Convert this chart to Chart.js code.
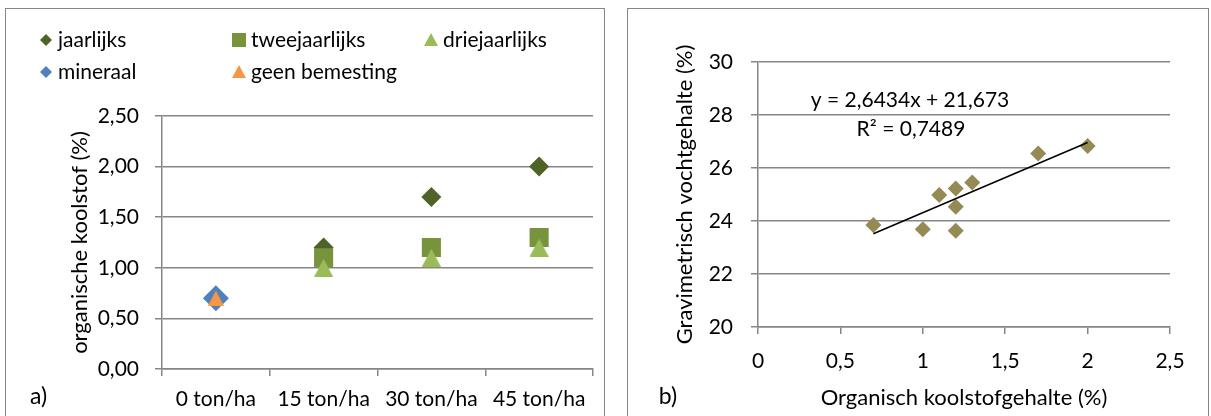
<!DOCTYPE html>
<html>
<head>
<meta charset="utf-8">
<script src="https://cdn.jsdelivr.net/npm/chart.js"></script>
<style>
  body { margin: 0; background: #fff; width: 1211px; height: 416px; overflow: hidden; position: relative; }
  .panel { position: absolute; border: 1.5px solid #868686; border-bottom: none; }
  #p1 { left: 5px; top: 8px; width: 598px; height: 420px; }
  #p2 { left: 627px; top: 8px; width: 580px; height: 420px; }
  canvas { position: absolute; top: 0; }
  #c1 { left: 0; }
  #c2 { left: 610px; }
</style>
</head>
<body>
<div class="panel" id="p1"></div>
<div class="panel" id="p2"></div>
<canvas id="c1" width="610" height="416"></canvas>
<canvas id="c2" width="601" height="416"></canvas>
<script>
// chart a) - organische koolstof per dosis
const doses = ["0 ton/ha", "15 ton/ha", "30 ton/ha", "45 ton/ha"];
const jaarlijks = [null, 1.2, 1.7, 2.0];
const tweejaarlijks = [null, 1.1, 1.2, 1.3];
const driejaarlijks = [null, 1.0, 1.1, 1.2];
const mineraal = [0.7, null, null, null];
const geenBemesting = [0.7, null, null, null];

// chart b) - koolstof vs vochtgehalte
const koolstof = [0.7, 1.0, 1.1, 1.2, 1.2, 1.2, 1.3, 1.7, 2.0];
const vocht = [23.85, 23.69, 24.98, 25.23, 24.54, 23.63, 25.45, 26.55, 26.83];
const trendX = [0.7, 2.0];
const trendY = [23.52, 26.96];
const trendLabel = ["y = 2,6434x + 21,673", "R\u00b2 = 0,7489"];

const FONT = "Lato, 'Open Sans', sans-serif";
const GRID = "#868686";
Chart.defaults.font.family = FONT;
Chart.defaults.color = "#000";
Chart.defaults.animation = false;

// excel triangles are centred on their bounding box, not the centroid
function triangleImg(color, w, h) {
  const c = document.createElement("canvas");
  c.width = w; c.height = h;
  const g = c.getContext("2d");
  g.fillStyle = color;
  g.beginPath();
  g.moveTo(w / 2, 0); g.lineTo(w, h); g.lineTo(0, h);
  g.closePath();
  g.fill();
  return c;
}

const series = [
  { label: "jaarlijks", data: jaarlijks, color: "#4F6228", style: "rectRot", r: 10 },
  { label: "tweejaarlijks", data: tweejaarlijks, color: "#77933C", style: "rect", r: 13.5 },
  { label: "driejaarlijks", data: driejaarlijks, color: "#9BBB59", style: "triangle", r: 11, img: triangleImg("#9BBB59", 19, 18) },
  { label: "mineraal", data: mineraal, color: "#4F81BD", style: "rectRot", r: 13 },
  { label: "geen bemesting", data: geenBemesting, color: "#F79646", style: "triangle", r: 9, img: triangleImg("#F79646", 16, 15) }
];

function marker(ctx, style, x, y, s) {
  ctx.beginPath();
  if (style === "rectRot") {
    ctx.moveTo(x, y - s); ctx.lineTo(x + s, y); ctx.lineTo(x, y + s); ctx.lineTo(x - s, y);
  } else if (style === "rect") {
    ctx.rect(x - s, y - s, 2 * s, 2 * s);
  } else {
    ctx.moveTo(x, y - s); ctx.lineTo(x + s, y + s * 0.85); ctx.lineTo(x - s, y + s * 0.85);
  }
  ctx.closePath();
  ctx.fill();
}

// legend in excel-like grid
const legendPos = [[46, 40], [239, 40], [431, 40], [46, 72], [239, 72]];
const legendSize = [6, 7, 7, 6, 7];
const legendA = {
  id: "legendA",
  afterDraw(chart) {
    const ctx = chart.ctx;
    ctx.save();
    ctx.font = "21px " + FONT;
    ctx.textBaseline = "middle";
    series.forEach((s, i) => {
      const [x, y] = legendPos[i];
      ctx.fillStyle = s.color;
      marker(ctx, s.style, x, y, legendSize[i]);
      ctx.fillStyle = "#000";
      ctx.fillText(s.label, x + 12, y);
    });
    ctx.font = "23px " + FONT;
    ctx.fillText("a)", 30, 397);
    ctx.restore();
  }
};

new Chart(document.getElementById("c1"), {
  type: "line",
  data: {
    labels: doses,
    datasets: series.map((s, i) => ({
      label: s.label,
      data: s.data,
      showLine: false,
      pointStyle: s.img || s.style,
      pointRadius: s.r,
      pointBackgroundColor: s.color,
      pointBorderWidth: 0,
      borderColor: s.color,
      order: 5 - i
    }))
  },
  options: {
    responsive: false,
    layout: { padding: { left: 67, top: 116, right: 17, bottom: 7 } },
    plugins: { legend: { display: false }, tooltip: { enabled: false } },
    scales: {
      x: {
        offset: true,
        afterFit: (s) => { s.height = 40; },
        grid: { offset: true, drawOnChartArea: false, color: GRID, lineWidth: 1.5, tickLength: 7 },
        border: { color: GRID, width: 1.5 },
        ticks: { font: { size: 21 }, padding: 11, maxRotation: 0 }
      },
      y: {
        min: 0, max: 2.5,
        afterFit: (s) => { s.width = 95; },
        grid: { color: GRID, lineWidth: 1.5, tickLength: 7 },
        border: { color: GRID, width: 1.5 },
        ticks: { stepSize: 0.5, font: { size: 21 }, padding: 16,
          callback: (v) => v.toFixed(2).replace(".", ",") },
        title: { display: true, text: "organische koolstof (%)", font: { size: 22 }, padding: { top: 0 } }
      }
    }
  },
  plugins: [legendA]
});

const labelsB = {
  id: "labelsB",
  afterDraw(chart) {
    const ctx = chart.ctx;
    ctx.save();
    ctx.font = "21px " + FONT;
    ctx.fillStyle = "#000";
    ctx.textAlign = "center";
    ctx.textBaseline = "middle";
    ctx.fillText(trendLabel[0], 300, 100);
    ctx.fillText(trendLabel[1], 301, 129);
    ctx.font = "23px " + FONT;
    ctx.fillText("b)", 58, 397);
    ctx.restore();
  }
};

new Chart(document.getElementById("c2"), {
  type: "scatter",
  data: {
    datasets: [
      {
        type: "line",
        data: trendX.map((x, i) => ({ x: x, y: trendY[i] })),
        borderColor: "#000",
        borderWidth: 1.5,
        pointRadius: 0,
        order: 0
      },
      {
        data: koolstof.map((x, i) => ({ x: x, y: vocht[i] })),
        pointStyle: "rectRot",
        pointRadius: 8,
        pointBackgroundColor: "#948A54",
        pointBorderWidth: 0,
        order: 1
      }
    ]
  },
  options: {
    responsive: false,
    layout: { padding: { left: 58, top: 62, right: 41, bottom: 5 } },
    plugins: { legend: { display: false }, tooltip: { enabled: false } },
    scales: {
      x: {
        type: "linear", min: 0, max: 2.5,
        afterFit: (s) => { s.height = 84; },
        grid: { drawOnChartArea: false, color: GRID, lineWidth: 1.5, tickLength: 7 },
        border: { color: GRID, width: 1.5 },
        ticks: { stepSize: 0.5, font: { size: 21 }, padding: 15,
          callback: (v) => String(v).replace(".", ",") },
        title: { display: true, text: "Organisch koolstofgehalte (%)", font: { size: 22 }, padding: { bottom: 0 } }
      },
      y: {
        min: 20, max: 30,
        afterFit: (s) => { s.width = 90; },
        grid: { color: GRID, lineWidth: 1.5, tickLength: 7 },
        border: { color: GRID, width: 1.5 },
        ticks: { stepSize: 2, font: { size: 21 }, padding: 18 },
        title: { display: true, text: "Gravimetrisch vochtgehalte (%)", font: { size: 22 }, padding: { top: 4 } }
      }
    }
  },
  plugins: [labelsB]
});
</script>
</body>
</html>
